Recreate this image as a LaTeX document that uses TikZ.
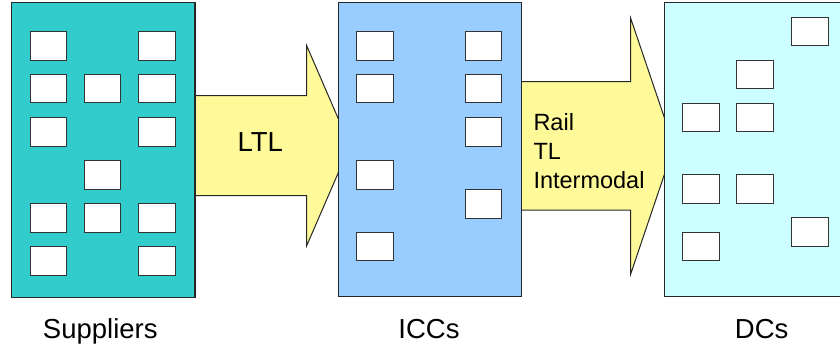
\documentclass[tikz,border=0pt]{standalone}
\usepackage{fontspec}
\setmainfont{Liberation Sans}
\begin{document}
\begin{tikzpicture}[x=1bp,y=-1bp,
  site/.style={draw=black!85,line width=1.1bp},
  win/.style={draw=black!80,fill=white,line width=1bp,minimum width=36.5bp,minimum height=28.5bp,inner sep=0pt,anchor=north west},
  flow/.style={draw=black!85,fill=yellow!40!white,line width=1bp,line join=miter},
  lbl/.style={font=\fontsize{27.5bp}{33bp}\selectfont,inner sep=0pt},
  mlbl/.style={font=\fontsize{23.5bp}{28.8bp}\selectfont,inner sep=0pt}]
\useasboundingbox (0,0) rectangle (840,347);
\begin{scope}
\clip (0,0) rectangle (840,347);
% arrows (behind)
\draw[flow] (195,95.7) -- (306.7,95.7) -- (306.7,45.7) -- (350,145.7) -- (306.7,245.7) -- (306.7,195.7) -- (195,195.7);
\draw[flow] (521.7,81.7) -- (630.7,81.7) -- (630.7,18.3) -- (674,146) -- (630.7,274) -- (630.7,210) -- (521.7,210);
% sites
\path[site,fill={rgb,255:red,51;green,204;blue,204}] (11.7,2.7) rectangle (195,297.5) node[pos=0.5] (sup) {};
\path[site,fill={rgb,255:red,153;green,204;blue,255}] (338.3,2.7) rectangle (521.7,296.7) node[pos=0.5] (icc) {};
\path[site,fill={rgb,255:red,204;green,255;blue,255}] (664.3,2.7) rectangle (859,296.7) node[pos=0.5] (dc) {};
\end{scope}
% supplier windows
\foreach \x/\y in {29.7/31.3,138.3/31.3,
  29.7/73.7,83.7/73.7,138.3/73.7,
  29.7/117,138.3/117,
  83.7/160,
  29.7/203,83.7/203,138.3/203,
  29.7/246,138.3/246}
  \node[win] at (\x,\y) {};
% ICC windows
\foreach \x/\y in {356.3/31.3,356.3/73.7,356.3/160,356.3/231.7,
  464.7/31.3,464.7/73.7,464.7/117,464.7/189}
  \node[win] at (\x,\y) {};
% DC windows
\foreach \x/\y in {791/16.7,736.3/59.7,682.3/102.7,736.3/102.7,
  682.3/174,736.3/174,791/217,682.3/231.7}
  \node[win] at (\x,\y) {};
% labels
\node[lbl,anchor=base] (ltl) at (260.3,151) {LTL};
\node[mlbl,anchor=base west,align=left] (modes) at (533.3,188.5) {Rail\\TL\\Intermodal};
\node[lbl,anchor=base] (supl) at (100.3,338.3) {Suppliers};
\node[lbl,anchor=base] (iccl) at (429,338.3) {ICCs};
\node[lbl,anchor=base] (dcl) at (761.7,338.3) {DCs};
\end{tikzpicture}
\end{document}
